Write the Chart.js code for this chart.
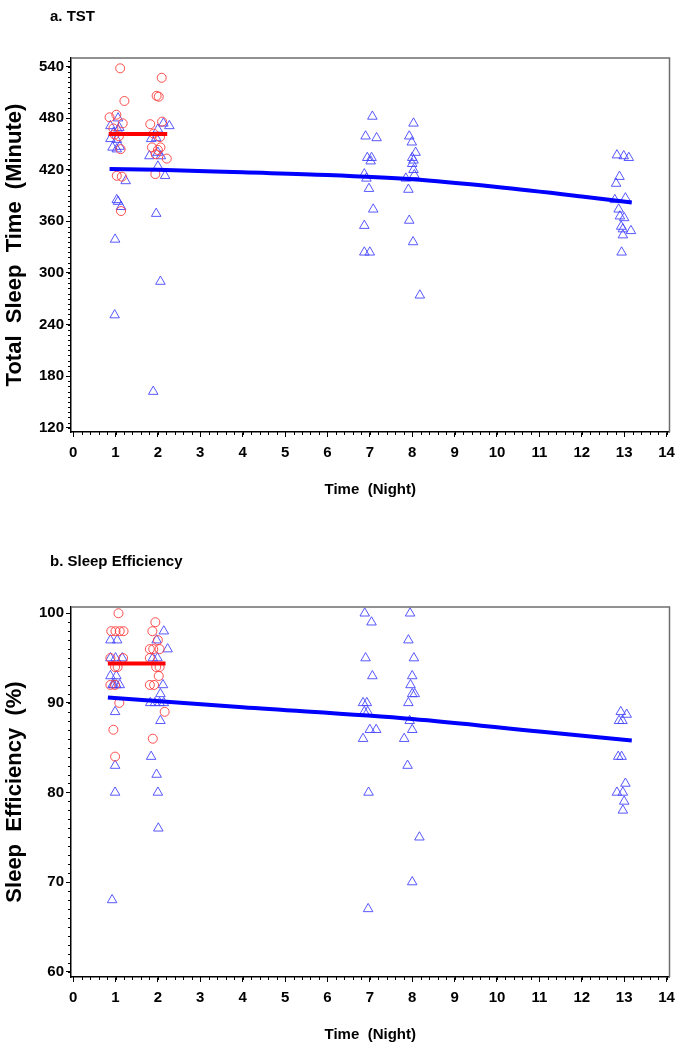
<!DOCTYPE html>
<html>
<head>
<meta charset="utf-8">
<script src="https://cdn.jsdelivr.net/npm/chart.js@4/dist/chart.umd.min.js"></script>
<style>
  body { margin: 0; background: #fff; width: 676px; height: 1050px; position: relative; overflow: hidden; }
  .panel { position: absolute; left: 0; width: 676px; height: 525px; }
  .ptitle { position: absolute; left: 50px; z-index: 2; font: bold 15px "Liberation Sans", Arial, sans-serif; color: #000; }
</style>
</head>
<body>
<div class="panel" style="top:0"><canvas id="tst-chart" width="676" height="525"></canvas></div>
<div class="panel" style="top:525px"><canvas id="se-chart" width="676" height="525"></canvas></div>
<div class="ptitle" style="top:7px">a. TST</div>
<div class="ptitle" style="top:552px">b. Sleep Efficiency</div>
<script>
// a. TST - red circles (nights 1-2), blue triangles (all nights)
var tstBaseNight = [1.11,1.21,0.86,1.02,1.17,0.95,0.98,1.08,1.12,1.03,1.15,1.13,
                    2.09,1.97,2.02,1.82,2.10,1.90,2.05,1.86,2.00,2.06,2.21,1.95,1.94];
var tstBaseMin   = [538,500,481,484,474,468,461,459,444,413,412,372,
                    527,506,505,473,476,462,458,446,443,446,433,438,415];
var tstNight = [1.06,0.88,1.09,0.95,1.06,0.88,1.03,0.93,1.03,1.10,1.24,1.03,1.06,1.13,0.99,0.98,
                2.27,2.13,2.00,1.84,1.96,1.80,2.00,2.07,2.00,2.17,1.96,2.06,1.89,
                7.06,6.90,7.16,6.94,7.04,7.02,6.87,6.92,6.98,7.08,6.87,6.87,7.00,
                8.03,7.93,7.99,8.08,8.00,8.03,8.00,8.03,8.05,7.85,7.91,7.93,8.02,8.18,
                12.83,12.99,13.11,12.89,12.81,12.78,13.03,12.87,12.90,13.00,12.93,12.97,13.16,12.97,12.94];
var tstMin   = [480,471,469,463,466,456,455,446,444,447,407,385,383,377,339,251,
                471,474,467,456,457,436,440,436,424,413,369,290,162,
                482,459,457,434,434,430,415,410,398,374,355,324,324,
                474,459,452,440,434,431,427,420,414,410,397,361,336,274,
                437,436,434,412,404,385,387,374,366,364,354,351,349,344,324];
var tstFitNight = [0.86,2,4,6,8,10,12,13.18];
var tstFitMin   = [421,420,417,414,409,400,389,382];
var tstBaseFitNight = [0.84,2.22];
var tstBaseFitMin   = [461.5,461.5];
var tstTicks = [120,180,240,300,360,420,480,540];

// b. Sleep efficiency
var seBaseNight = [1.07,0.90,1.00,1.10,1.19,0.88,1.18,0.99,1.05,0.88,0.99,1.09,0.95,0.99,
                   1.94,1.87,2.00,1.81,1.89,2.04,1.81,1.96,2.04,2.02,1.81,1.91,2.16,1.88];
var seBasePct   = [100,98,98,98,98,95,95,94,94,92,92,90,87,84,
                   99,98,97,96,96,96,95,94,94,93,92,92,89,86];
var seNight = [0.88,1.04,0.88,1.00,1.16,0.88,1.02,0.96,0.93,1.02,1.10,0.99,0.99,0.99,0.92,
               2.14,2.23,1.97,1.99,1.88,2.12,2.06,1.82,1.93,2.04,2.14,2.06,1.84,1.97,2.00,2.01,
               6.88,7.04,6.90,7.06,6.84,6.93,6.87,6.95,7.00,7.15,6.84,6.97,6.96,
               7.95,7.91,8.04,8.00,7.96,8.06,8.00,7.91,7.94,8.00,7.81,7.89,8.17,8.00,
               12.92,13.06,12.88,12.96,12.86,12.94,13.03,12.83,12.97,13.00,12.97];
var sePct   = [97,97,95,95,95,93,93,92,92,92,92,89,83,80,68,
               98,96,97,95,95,92,91,90,90,90,90,88,84,82,80,76,
               100,99,95,93,90,90,89,89,87,87,86,80,67,
               100,97,95,93,92,91,91,90,88,87,86,83,75,70,
               89,88.7,88,88,84,84,81,80,80,79,78];
var seFitNight = [0.82,4,8,11,13.18];
var seFitPct   = [90.6,89.5,88.2,86.8,85.8];
var seBaseFitNight = [0.82,2.18];
var seBaseFitPct   = [94.4,94.4];
var seTicks = [60,70,80,90,100];

var nightTicks = [0,1,2,3,4,5,6,7,8,9,10,11,12,13,14];

Chart.defaults.font.family = '"Liberation Sans", Arial, sans-serif';
Chart.defaults.font.weight = 'bold';
Chart.defaults.font.size = 15;
Chart.defaults.color = '#000';

function pairs(xs, ys) {
  return xs.map(function (x, i) { return {x: x, y: ys[i]}; });
}

// border on top/right plus small minor ticks on both axes
var framePlugin = {
  id: 'frame',
  afterDraw: function (chart, args, opts) {
    var ctx = chart.ctx, a = chart.chartArea;
    var xs = chart.scales.x, ys = chart.scales.y;
    ctx.save();
    ctx.strokeStyle = '#6e6e6e';
    ctx.lineWidth = 1.5;
    ctx.beginPath();
    ctx.moveTo(a.left, a.top);
    ctx.lineTo(a.right, a.top);
    ctx.lineTo(a.right, a.bottom);
    ctx.stroke();

    ctx.strokeStyle = '#000';
    ctx.lineWidth = 1;
    ctx.beginPath();
    var i, p;
    for (i = Math.ceil(xs.min / opts.xStep); i * opts.xStep <= xs.max; i++) {
      p = Math.round(xs.getPixelForValue(i * opts.xStep)) + 0.5;
      ctx.moveTo(p, a.bottom);
      ctx.lineTo(p, a.bottom + 3);
    }
    for (i = Math.ceil(ys.min / opts.yStep); i * opts.yStep <= ys.max; i++) {
      p = Math.round(ys.getPixelForValue(i * opts.yStep)) + 0.5;
      ctx.moveTo(a.left, p);
      ctx.lineTo(a.left - 3, p);
    }
    ctx.stroke();
    ctx.restore();
  }
};

function makeChart(canvasId, cfg) {
  return new Chart(document.getElementById(canvasId), {
    type: 'scatter',
    data: {
      datasets: [{
        data: pairs(cfg.baseFitX, cfg.baseFitY),
        showLine: true, pointRadius: 0, borderColor: '#ff0000', borderWidth: 4, order: 0
      }, {
        data: pairs(cfg.fitX, cfg.fitY),
        showLine: true, pointRadius: 0, borderColor: '#0000ff', borderWidth: 4,
        cubicInterpolationMode: 'monotone', order: 0
      }, {
        data: pairs(cfg.baseX, cfg.baseY),
        pointStyle: 'circle', pointRadius: 4.5, borderWidth: 1,
        borderColor: 'rgba(255,60,60,0.9)', backgroundColor: 'rgba(0,0,0,0)', order: 1
      }, {
        data: pairs(cfg.ptX, cfg.ptY),
        pointStyle: 'triangle', pointRadius: 5.5, borderWidth: 1,
        borderColor: 'rgba(70,70,255,0.9)', backgroundColor: 'rgba(0,0,0,0)', order: 2
      }]
    },
    options: {
      responsive: false,
      animation: false,
      devicePixelRatio: 1,
      layout: { padding: { top: cfg.padTop, right: 3, left: 0, bottom: 0 } },
      plugins: {
        legend: { display: false },
        tooltip: { enabled: false },
        frame: { xStep: 0.2, yStep: cfg.minorY }
      },
      scales: {
        x: {
          type: 'linear', min: -0.05, max: 14.07,
          afterFit: function (s) { s.height = cfg.xHeight; },
          afterBuildTicks: function (s) { s.ticks = nightTicks.map(function (v) { return {value: v}; }); },
          // small padding keeps the "14" label from shrinking the plot; lineHeight pushes labels down
          ticks: { padding: 1, autoSkip: false, maxRotation: 0, font: { size: 15, weight: 'bold', lineHeight: 1.95 } },
          grid: { drawOnChartArea: false, drawTicks: true, tickLength: 5, color: '#000' },
          border: { display: true, color: '#000', width: 1.5 },
          title: { display: true, text: 'Time  (Night)', padding: { top: 0, bottom: cfg.xTitlePad } }
        },
        y: {
          type: 'linear', min: cfg.yMin, max: cfg.yMax,
          afterFit: function (s) { s.width = 71; },
          afterBuildTicks: function (s) { s.ticks = cfg.yTicks.map(function (v) { return {value: v}; }); },
          ticks: { padding: 2, autoSkip: false },
          grid: { drawOnChartArea: false, drawTicks: true, tickLength: 5, color: '#000' },
          border: { display: true, color: '#000', width: 1.5 },
          title: {
            display: true, text: cfg.yTitle,
            font: { size: 22, weight: 'bold' },
            padding: { top: 2, bottom: 0 }
          }
        }
      }
    },
    plugins: [framePlugin]
  });
}

var tstChart = makeChart('tst-chart', {
  baseX: tstBaseNight, baseY: tstBaseMin, ptX: tstNight, ptY: tstMin,
  fitX: tstFitNight, fitY: tstFitMin, baseFitX: tstBaseFitNight, baseFitY: tstBaseFitMin,
  yMin: 115, yMax: 550, yTicks: tstTicks, minorY: 6,
  yTitle: 'Total  Sleep  Time  (Minute)',
  padTop: 58, xHeight: 93, xTitlePad: 26
});

var seChart = makeChart('se-chart', {
  baseX: seBaseNight, baseY: seBasePct, ptX: seNight, ptY: sePct,
  fitX: seFitNight, fitY: seFitPct, baseFitX: seBaseFitNight, baseFitY: seBaseFitPct,
  yMin: 59.4, yMax: 100.7, yTicks: seTicks, minorY: 1,
  yTitle: 'Sleep  Efficiency  (%)',
  padTop: 82, xHeight: 73, xTitlePad: 6
});
</script>
</body>
</html>
